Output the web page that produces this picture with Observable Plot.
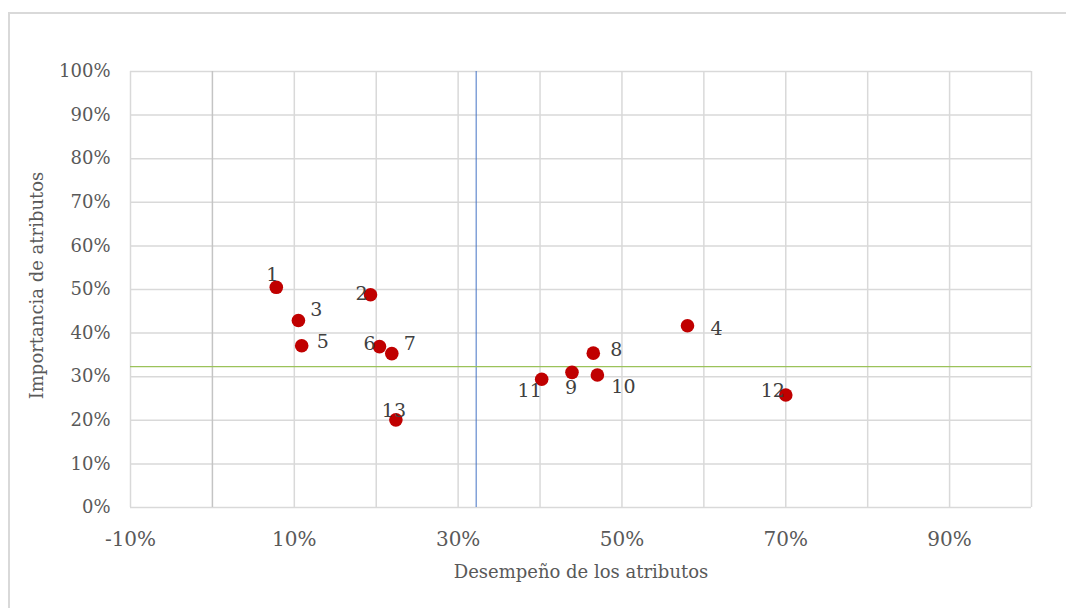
<!DOCTYPE html>
<html>
<head>
<meta charset="utf-8">
<script src="https://cdn.jsdelivr.net/npm/d3@7"></script>
<script src="https://cdn.jsdelivr.net/npm/@observablehq/plot@0.6"></script>
<style>
  html, body { margin: 0; padding: 0; background: #fff; overflow: hidden; width: 1066px; height: 608px; }
  .edge { position: absolute; background: #d9d9d9; }
  #edge-top { left: 8px; top: 12px; width: 1058px; height: 1.5px; }
  #edge-left { left: 8px; top: 12px; width: 1.5px; height: 596px; }
  #chart { position: absolute; left: 0; top: 0; }
</style>
</head>
<body>
<div class="edge" id="edge-top"></div>
<div class="edge" id="edge-left"></div>
<div id="chart"></div>
<script>
// Atributos evaluados: desempeño (x) e importancia (y)
const atributos   = ["1","2","3","4","5","6","7","8","9","10","11","12","13"];
const desempeno   = [0.078, 0.193, 0.105, 0.580, 0.109, 0.204, 0.219, 0.465, 0.439, 0.470, 0.402, 0.700, 0.224];
const importancia = [0.505, 0.488, 0.429, 0.417, 0.371, 0.369, 0.353, 0.354, 0.310, 0.304, 0.294, 0.258, 0.201];

// Líneas de referencia
const refDesempeno = 0.322;
const refImportancia = 0.323;

// Ejes
const xTicks = [-0.1, 0.1, 0.3, 0.5, 0.7, 0.9];
const yTicks = [0, 0.1, 0.2, 0.3, 0.4, 0.5, 0.6, 0.7, 0.8, 0.9, 1.0];
const xGrid  = [-0.1, 0, 0.1, 0.2, 0.3, 0.4, 0.5, 0.6, 0.7, 0.8, 0.9, 1.0];
const xTitle = "Desempeño de los atributos";
const yTitle = "Importancia de atributos";

// Desplazamiento de cada etiqueta respecto de su punto (px)
const labelDx = [-4, -9, 18, 29, 21, -10, 18, 23, -1, 26, -12, -13, -2];
const labelDy = [-12, -1, -11, 3, -4, -3, -10, -3, 16, 12, 12, -4, -9];

const puntos = atributos.map((a, i) => ({ a, x: desempeno[i], y: importancia[i] }));
const pct = d => `${Math.round(d * 100)}%`;

const gridColor = "#d9d9d9";
const textColor = "#595959";

const chart = Plot.plot({
  width: 1066,
  height: 608,
  marginLeft: 130,
  marginRight: 35,
  marginTop: 71,
  marginBottom: 101,
  style: { fontFamily: "DejaVu Serif", background: "transparent" },
  x: { domain: [-0.1, 1.0], axis: null },
  y: { domain: [0, 1.0], axis: null },
  marks: [
    // cuadrícula
    Plot.ruleY(yTicks, { y: d => d, stroke: gridColor, strokeWidth: 1.5 }),
    Plot.ruleX(xGrid.filter(d => d !== 0), { x: d => d, stroke: gridColor, strokeWidth: 1.5 }),
    Plot.ruleX([0], { x: d => d, stroke: "#c4c4c4", strokeWidth: 1.5 }),
    // etiquetas de los ejes
    Plot.text(xTicks, { x: d => d, text: pct, frameAnchor: "bottom", dy: 32,
      fontSize: 20, fill: textColor, lineAnchor: "middle" }),
    Plot.text(yTicks, { y: d => d, text: pct, frameAnchor: "left", dx: -20,
      textAnchor: "end", fontSize: 18, fill: textColor, lineAnchor: "middle" }),
    Plot.text([xTitle], { text: d => d, frameAnchor: "bottom", dy: 65,
      fontSize: 18, fill: textColor, lineAnchor: "middle" }),
    Plot.text([yTitle], { text: d => d, frameAnchor: "left", dx: -93, dy: -4, rotate: -90,
      textAnchor: "middle", fontSize: 18, fill: textColor, lineAnchor: "middle" }),
    // líneas de referencia
    Plot.ruleX([refDesempeno], { x: d => d, stroke: "#4472C4", strokeWidth: 1 }),
    Plot.ruleY([refImportancia], { y: d => d, stroke: "#9BC25A", strokeWidth: 1.2 }),
    // puntos
    Plot.dot(puntos, { x: "x", y: "y", r: 6.8, fill: "#C00000", stroke: "none" }),
    // etiquetas de los puntos
    ...puntos.map((p, i) => Plot.text([p], {
      x: "x", y: "y", text: "a", dx: labelDx[i], dy: labelDy[i],
      fontSize: 19, fill: "#404040", lineAnchor: "middle"
    }))
  ]
});

document.getElementById("chart").appendChild(chart);
</script>
</body>
</html>
